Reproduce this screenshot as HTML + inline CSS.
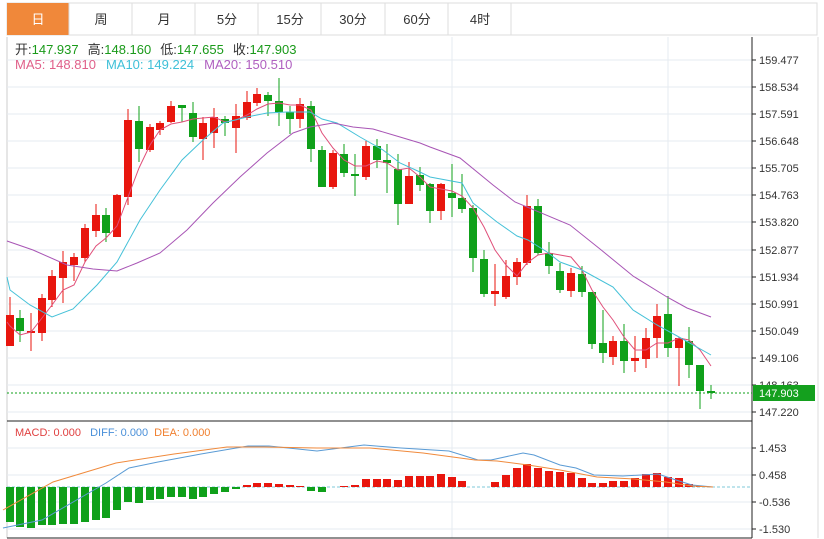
<!DOCTYPE html>
<html><head><meta charset="utf-8"><style>
body{margin:0;background:#fff;width:824px;height:539px;overflow:hidden;font-family:"Liberation Sans","Noto Sans CJK SC",sans-serif}
svg{position:absolute;left:0;top:0}
</style></head><body>
<svg width="824" height="539" xmlns="http://www.w3.org/2000/svg" font-family="Liberation Sans, Noto Sans CJK SC, sans-serif">
<rect x="7" y="3" width="810" height="32" fill="#fff" stroke="#ddd"/>
<rect x="7" y="3" width="62" height="32" fill="#f0883a"/>
<g stroke="#ddd"><line x1="69" y1="3" x2="69" y2="35"/><line x1="132" y1="3" x2="132" y2="35"/><line x1="195" y1="3" x2="195" y2="35"/><line x1="258" y1="3" x2="258" y2="35"/><line x1="321" y1="3" x2="321" y2="35"/><line x1="385" y1="3" x2="385" y2="35"/><line x1="448" y1="3" x2="448" y2="35"/><line x1="511" y1="3" x2="511" y2="35"/></g>
<g font-size="13" text-anchor="middle" fill="#333"><text x="38" y="24" fill="#fff">日</text><text x="101" y="24">周</text><text x="164" y="24">月</text><text x="227" y="24">5分</text><text x="290" y="24">15分</text><text x="353" y="24">30分</text><text x="417" y="24">60分</text><text x="480" y="24">4时</text></g>
<line x1="7" y1="37" x2="7" y2="538" stroke="#ccc"/>
<g stroke="#e6ebf0"><line x1="7" y1="60" x2="752" y2="60"/><line x1="7" y1="87" x2="752" y2="87"/><line x1="7" y1="114" x2="752" y2="114"/><line x1="7" y1="141" x2="752" y2="141"/><line x1="7" y1="168" x2="752" y2="168"/><line x1="7" y1="195" x2="752" y2="195"/><line x1="7" y1="222" x2="752" y2="222"/><line x1="7" y1="250" x2="752" y2="250"/><line x1="7" y1="277" x2="752" y2="277"/><line x1="7" y1="304" x2="752" y2="304"/><line x1="7" y1="331" x2="752" y2="331"/><line x1="7" y1="358" x2="752" y2="358"/><line x1="7" y1="385" x2="752" y2="385"/><line x1="7" y1="412" x2="752" y2="412"/>
<line x1="452" y1="37" x2="452" y2="538"/><line x1="668" y1="37" x2="668" y2="538"/>
<line x1="7" y1="448" x2="752" y2="448"/><line x1="7" y1="475" x2="752" y2="475"/><line x1="7" y1="502" x2="752" y2="502"/><line x1="7" y1="529" x2="752" y2="529"/></g>
<line x1="7" y1="421" x2="752" y2="421" stroke="#222"/>
<line x1="7" y1="538" x2="752" y2="538" stroke="#222"/>
<line x1="752" y1="37" x2="752" y2="538" stroke="#222"/>
<line x1="818" y1="37" x2="818" y2="538" stroke="#ddd"/>
<g font-size="11" fill="#333"><g stroke="#222"><line x1="752" x2="756" y1="60" y2="60"/><line x1="752" x2="756" y1="87" y2="87"/><line x1="752" x2="756" y1="114" y2="114"/><line x1="752" x2="756" y1="141" y2="141"/><line x1="752" x2="756" y1="168" y2="168"/><line x1="752" x2="756" y1="195" y2="195"/><line x1="752" x2="756" y1="222" y2="222"/><line x1="752" x2="756" y1="250" y2="250"/><line x1="752" x2="756" y1="277" y2="277"/><line x1="752" x2="756" y1="304" y2="304"/><line x1="752" x2="756" y1="331" y2="331"/><line x1="752" x2="756" y1="358" y2="358"/><line x1="752" x2="756" y1="385" y2="385"/><line x1="752" x2="756" y1="412" y2="412"/><line x1="752" x2="756" y1="448" y2="448"/><line x1="752" x2="756" y1="475" y2="475"/><line x1="752" x2="756" y1="502" y2="502"/><line x1="752" x2="756" y1="529" y2="529"/></g>
<text x="759" y="64">159.477</text><text x="759" y="91">158.534</text><text x="759" y="118">157.591</text><text x="759" y="145">156.648</text><text x="759" y="172">155.705</text><text x="759" y="199">154.763</text><text x="759" y="226">153.820</text><text x="759" y="254">152.877</text><text x="759" y="281">151.934</text><text x="759" y="308">150.991</text><text x="759" y="335">150.049</text><text x="759" y="362">149.106</text><text x="759" y="389">148.163</text><text x="759" y="416">147.220</text>
<text x="759" y="452">1.453</text><text x="759" y="479">0.458</text><text x="759" y="506">-0.536</text><text x="759" y="533">-1.530</text></g>
<g font-size="13"><text x="15" y="54" fill="#333">开:<tspan fill="#1a9a1a">147.937</tspan><tspan dx="9">高:</tspan><tspan fill="#1a9a1a">148.160</tspan><tspan dx="9">低:</tspan><tspan fill="#1a9a1a">147.655</tspan><tspan dx="9">收:</tspan><tspan fill="#1a9a1a">147.903</tspan></text>
<text x="15" y="69" fill="#e0608a">MA5: 148.810<tspan fill="#3fc0d8" dx="10">MA10: 149.224</tspan><tspan fill="#b060c0" dx="10">MA20: 150.510</tspan></text>
<text x="15" y="436" font-size="11" fill="#e04040">MACD: 0.000 <tspan fill="#4a90d9" dx="6">DIFF: 0.000</tspan><tspan fill="#f08030" dx="6">DEA: 0.000</tspan></text></g>
<g stroke-width="1">
<path stroke="#e8160e" d="M10 297V346M31 313V351M42 294V341M52 270V307M63 251V303M74 253V281M85 224V262M96 204V237M117 194V237M128 109V205M150 124V152M160 121V135M171 101V123M203 117V160M214 108V148M236 104V153M247 91V120M257 88V106M300 98V128M333 150V189M366 141V180M409 162V204M441 183V220M495 264V306M506 260V299M517 258V285M527 195V265M571 268V297M613 336V365M635 336V372M646 328V368M657 304V358M679 337V386"/>
<path stroke="#0fa01a" d="M20 310V342M106 208V242M139 106V162M182 105V122M193 102V142M225 116V136M268 92V116M279 78V126M290 106V134M311 101V162M322 146V187M344 144V177M355 154V196M377 139V168M387 144V193M398 154V225M420 167V191M430 183V223M452 164V217M462 174V213M473 205V272M484 250V297M538 199V255M549 242V274M560 263V293M582 266V297M592 292V349M603 310V363M624 324V373M668 296V357M689 327V378M700 365V409M711 385V399"/>
<g fill="#e8160e"><rect x="6" y="315" width="8" height="31"/><rect x="27" y="331" width="8" height="2"/><rect x="38" y="298" width="8" height="35"/><rect x="48" y="276" width="8" height="24"/><rect x="59" y="262" width="8" height="16"/><rect x="70" y="257" width="8" height="8"/><rect x="81" y="228" width="8" height="30"/><rect x="92" y="215" width="8" height="16"/><rect x="113" y="195" width="8" height="42"/><rect x="124" y="120" width="8" height="77"/><rect x="146" y="127" width="8" height="23"/><rect x="156" y="123" width="8" height="7"/><rect x="167" y="106" width="8" height="16"/><rect x="199" y="123" width="8" height="16"/><rect x="210" y="117" width="8" height="16"/><rect x="232" y="116" width="8" height="12"/><rect x="243" y="102" width="8" height="16"/><rect x="253" y="94" width="8" height="9"/><rect x="296" y="104" width="8" height="15"/><rect x="329" y="153" width="8" height="34"/><rect x="362" y="146" width="8" height="31"/><rect x="405" y="176" width="8" height="28"/><rect x="437" y="184" width="8" height="27"/><rect x="491" y="291" width="8" height="3"/><rect x="502" y="276" width="8" height="21"/><rect x="513" y="262" width="8" height="15"/><rect x="523" y="206" width="8" height="57"/><rect x="567" y="273" width="8" height="18"/><rect x="609" y="341" width="8" height="16"/><rect x="631" y="358" width="8" height="3"/><rect x="642" y="338" width="8" height="21"/><rect x="653" y="316" width="8" height="22"/><rect x="675" y="338" width="8" height="10"/></g>
<g fill="#0fa01a"><rect x="16" y="318" width="8" height="13"/><rect x="102" y="215" width="8" height="18"/><rect x="135" y="121" width="8" height="28"/><rect x="178" y="105" width="8" height="3"/><rect x="189" y="113" width="8" height="24"/><rect x="221" y="119" width="8" height="4"/><rect x="264" y="95" width="8" height="6"/><rect x="275" y="101" width="8" height="11"/><rect x="286" y="112" width="8" height="7"/><rect x="307" y="106" width="8" height="43"/><rect x="318" y="150" width="8" height="37"/><rect x="340" y="154" width="8" height="19"/><rect x="351" y="174" width="8" height="2"/><rect x="373" y="146" width="8" height="14"/><rect x="383" y="160" width="8" height="3"/><rect x="394" y="169" width="8" height="35"/><rect x="416" y="175" width="8" height="10"/><rect x="426" y="184" width="8" height="27"/><rect x="448" y="193" width="8" height="5"/><rect x="458" y="198" width="8" height="11"/><rect x="469" y="208" width="8" height="50"/><rect x="480" y="259" width="8" height="35"/><rect x="534" y="206" width="8" height="47"/><rect x="545" y="253" width="8" height="13"/><rect x="556" y="271" width="8" height="19"/><rect x="578" y="274" width="8" height="18"/><rect x="588" y="292" width="8" height="52"/><rect x="599" y="343" width="8" height="10"/><rect x="620" y="341" width="8" height="20"/><rect x="664" y="314" width="8" height="34"/><rect x="685" y="341" width="8" height="24"/><rect x="696" y="365" width="8" height="26"/><rect x="707" y="391" width="8" height="2"/></g>
</g>
<g fill="none" stroke-width="1">
<polyline stroke="#e0507a" points="7,322 10,326 20,335 31,332 42,318 52,305 63,290 74,285 85,262 96,246 106,238 117,226 128,197 139,168 150,145 160,130 171,124 182,122 193,119 203,118 214,117 225,122 236,120 247,115 257,109 268,104 279,103 290,105 300,105 311,110 322,133 333,148 344,160 355,166 366,166 377,161 387,163 398,170 409,168 420,177 430,187 441,189 452,191 462,196 473,208 484,227 495,250 506,265 517,276 527,263 538,255 549,253 560,255 571,257 582,270 592,290 603,307 613,320 624,337 635,350 646,350 657,343 668,343 679,338 689,340 700,350 711,366"/>
<polyline stroke="#45c1d8" points="7,277 10,290 30,305 52,317 73,309 97,285 117,262 140,220 160,190 182,160 203,140 223,123 247,117 267,113 287,112 310,112 322,119 337,123 360,137 383,150 400,163 420,172 430,177 462,183 473,203 497,222 517,236 528,240 547,252 560,262 582,270 613,287 633,310 657,325 679,337 711,355"/>
<polyline stroke="#a855b5" points="7,241 33,250 67,265 93,269 117,271 137,263 160,253 187,230 213,203 240,177 267,153 293,133 310,127 333,123 353,127 373,129 400,137 420,143 430,147 460,158 493,185 515,202 570,225 600,249 633,276 667,297 687,308 711,317"/>
</g>
<line x1="7" y1="393" x2="752" y2="393" stroke="#0fa01a" stroke-dasharray="2,2"/>
<rect x="753" y="385" width="62" height="16" fill="#14a01e"/>
<text x="759" y="397" font-size="11" fill="#fff">147.903</text>
<line x1="7" y1="487" x2="752" y2="487" stroke="#7fc8d8" stroke-dasharray="3,2"/>
<g fill="#0fa01a"><rect x="6" y="487" width="8" height="35"/><rect x="16" y="487" width="8" height="40"/><rect x="27" y="487" width="8" height="41"/><rect x="38" y="487" width="8" height="38"/><rect x="48" y="487" width="8" height="38"/><rect x="59" y="487" width="8" height="37"/><rect x="70" y="487" width="8" height="37"/><rect x="81" y="487" width="8" height="35"/><rect x="92" y="487" width="8" height="33"/><rect x="102" y="487" width="8" height="31"/><rect x="113" y="487" width="8" height="23"/><rect x="124" y="487" width="8" height="15"/><rect x="135" y="487" width="8" height="16"/><rect x="146" y="487" width="8" height="13"/><rect x="156" y="487" width="8" height="12"/><rect x="167" y="487" width="8" height="10"/><rect x="178" y="487" width="8" height="10"/><rect x="189" y="487" width="8" height="12"/><rect x="199" y="487" width="8" height="10"/><rect x="210" y="487" width="8" height="7"/><rect x="221" y="487" width="8" height="5"/><rect x="232" y="487" width="8" height="2"/><rect x="307" y="487" width="8" height="4"/><rect x="318" y="487" width="8" height="5"/></g>
<g fill="#e8160e"><rect x="243" y="485" width="8" height="2"/><rect x="253" y="483" width="8" height="4"/><rect x="264" y="483" width="8" height="4"/><rect x="275" y="484" width="8" height="3"/><rect x="286" y="485" width="8" height="2"/><rect x="296" y="486" width="8" height="1"/><rect x="340" y="486" width="8" height="1"/><rect x="351" y="485" width="8" height="2"/><rect x="362" y="479" width="8" height="8"/><rect x="373" y="479" width="8" height="8"/><rect x="383" y="479" width="8" height="8"/><rect x="394" y="480" width="8" height="7"/><rect x="405" y="476" width="8" height="11"/><rect x="416" y="476" width="8" height="11"/><rect x="426" y="476" width="8" height="11"/><rect x="437" y="474" width="8" height="13"/><rect x="448" y="477" width="8" height="10"/><rect x="458" y="481" width="8" height="6"/><rect x="491" y="482" width="8" height="5"/><rect x="502" y="475" width="8" height="12"/><rect x="513" y="468" width="8" height="19"/><rect x="523" y="464" width="8" height="23"/><rect x="534" y="468" width="8" height="19"/><rect x="545" y="471" width="8" height="16"/><rect x="556" y="472" width="8" height="15"/><rect x="567" y="473" width="8" height="14"/><rect x="578" y="478" width="8" height="9"/><rect x="588" y="483" width="8" height="4"/><rect x="599" y="483" width="8" height="4"/><rect x="609" y="481" width="8" height="6"/><rect x="620" y="481" width="8" height="6"/><rect x="631" y="478" width="8" height="9"/><rect x="642" y="474" width="8" height="13"/><rect x="653" y="473" width="8" height="14"/><rect x="664" y="477" width="8" height="10"/><rect x="675" y="478" width="8" height="9"/><rect x="685" y="484" width="8" height="3"/><rect x="696" y="486" width="8" height="1"/></g>
<polyline fill="none" stroke="#5a9bd5" points="3,528 42,520 106,483 129,468 158,462 201,454 248,446 269,446 317,451 364,445 401,448 449,451 478,460 491,460 523,453 534,455 560,465 576,468 594,475 623,476 658,474 676,480 692,485 713,487"/>
<polyline fill="none" stroke="#f08a3c" points="3,510 53,482 116,463 174,454 227,447 264,447 317,448 370,448 423,453 475,460 497,461 528,465 560,470 597,477 634,479 666,482 692,486 713,487"/>
</svg>
</body></html>
